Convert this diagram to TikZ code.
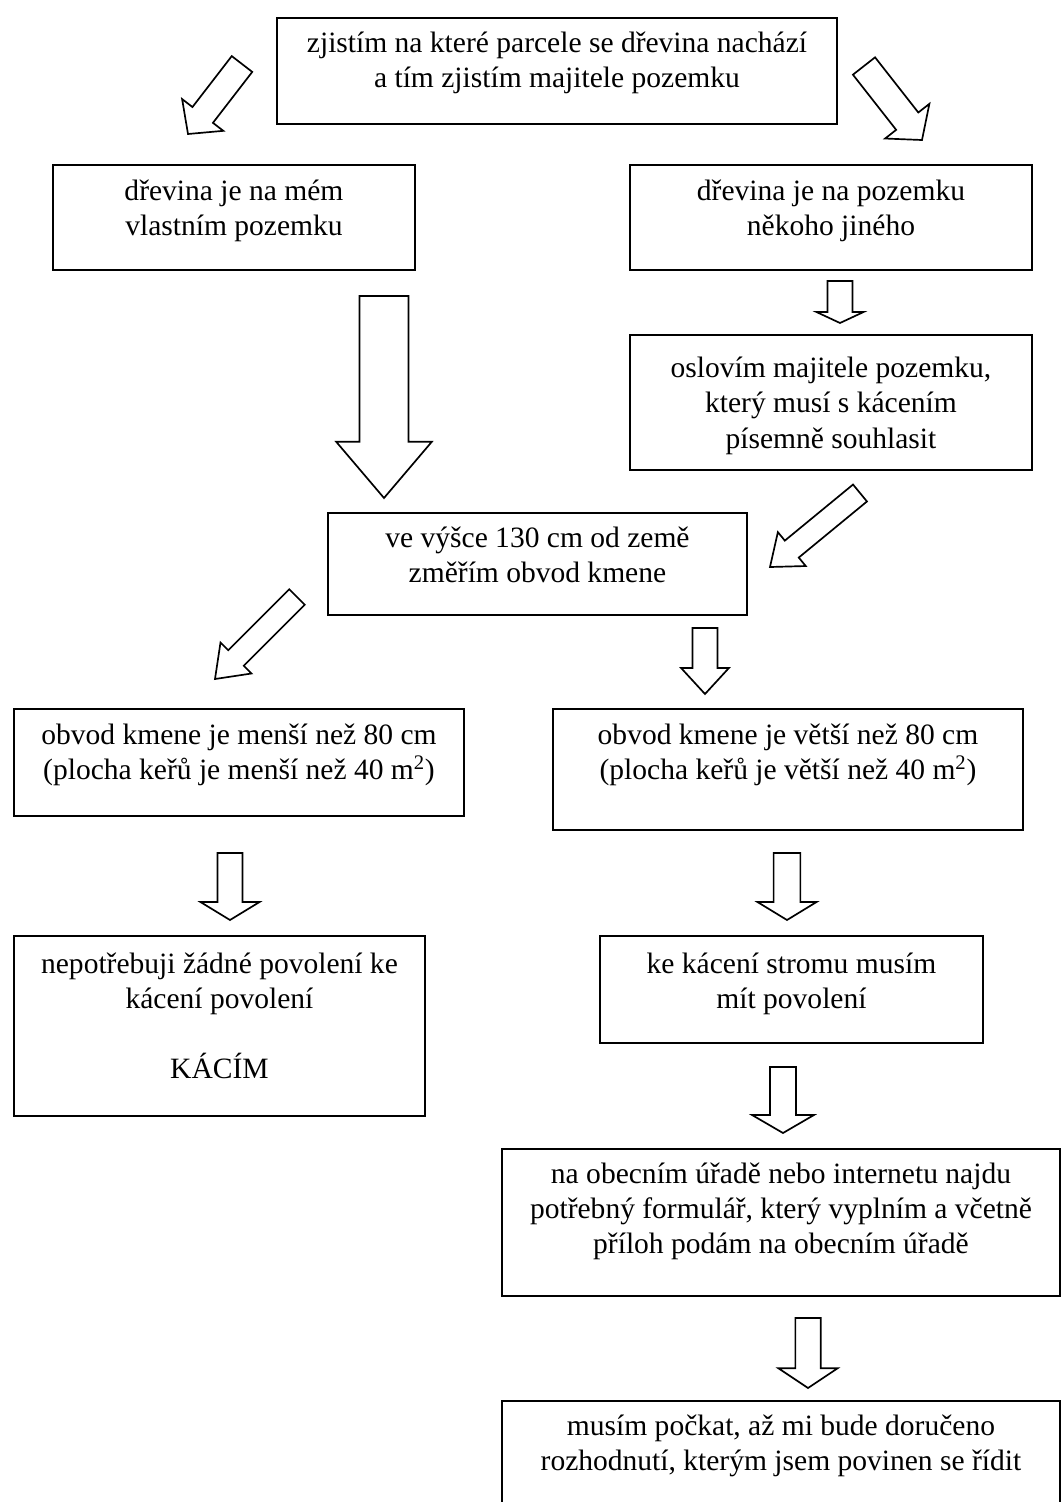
\documentclass[tikz,border=0pt]{standalone}
\usepackage{fontspec}
\setmainfont{Liberation Serif}
\usetikzlibrary{calc}

\tikzset{
  box/.style={draw, line width=1.3pt, inner sep=0pt, anchor=north west,
    font=\fontsize{21}{25}\selectfont},
  fatarr/.style={draw, fill=white, line width=1.2pt, line join=miter}
}

% text of a box: [top gap], width, height, lines
\newcommand{\boxtxt}[4][7pt]{\parbox[c][#3][t]{#2}{\vspace*{#1}\centering\strut #4}}

% hollow block arrow: from, to, shaft half width, head half width, head length
\newcommand{\fatarrow}[5]{%
  \path[fatarr] let \p1=(#1), \p2=(#2),
    \n1={atan2(\y2-\y1,\x2-\x1)}, \n2={veclen(\x2-\x1,\y2-\y1)} in
    ($(\p1)+(\n1+90:#3)$) -- ($(\p1)+(\n1:\n2-#5)+(\n1+90:#3)$)
    -- ($(\p1)+(\n1:\n2-#5)+(\n1+90:#4)$) -- (\p2)
    -- ($(\p1)+(\n1:\n2-#5)+(\n1-90:#4)$) -- ($(\p1)+(\n1:\n2-#5)+(\n1-90:#3)$)
    -- ($(\p1)+(\n1-90:#3)$) -- cycle;}

\begin{document}
\begin{tikzpicture}[x=0.025cm, y=-0.025cm]
\useasboundingbox (0,0) rectangle (1062,1502);
\clip (0,0) rectangle (1062,1502);

\node[box] (zjisteni) at (276,17) {\boxtxt{14cm}{2.65cm}{zjistím na které parcele se dřevina nachází\\a tím zjistím majitele pozemku}};
\node[box] (vlastni) at (52,164) {\boxtxt[8pt]{9.05cm}{2.625cm}{dřevina je na mém\\vlastním pozemku}};
\node[box] (cizi) at (629,164) {\boxtxt[8pt]{10.05cm}{2.625cm}{dřevina je na pozemku\\někoho jiného}};
\node[box] (souhlas) at (629,334) {\boxtxt[13pt]{10.05cm}{3.375cm}{oslovím majitele pozemku,\\který musí s kácením\\písemně souhlasit}};
\node[box] (mereni) at (327,512) {\boxtxt{10.475cm}{2.55cm}{ve výšce 130 cm od země\\změřím obvod kmene}};
\node[box] (mensi) at (13,708) {\boxtxt[8pt]{11.25cm}{2.675cm}{obvod kmene je menší než 80 cm\\(plocha keřů je menší než 40 m\textsuperscript{2})}};
\node[box] (vetsi) at (552,708) {\boxtxt[8pt]{11.75cm}{3.025cm}{obvod kmene je větší než 80 cm\\(plocha keřů je větší než 40 m\textsuperscript{2})}};
\node[box] (bezpovoleni) at (13,935) {\boxtxt[9pt]{10.275cm}{4.5cm}{nepotřebuji žádné povolení ke\\kácení povolení\\[25pt]KÁCÍM}};
\node[box] (povoleni) at (599,935) {\boxtxt[9pt]{9.575cm}{2.675cm}{ke kácení stromu musím\\mít povolení}};
\node[box] (formular) at (501,1148) {\boxtxt{13.95cm}{3.675cm}{na obecním úřadě nebo internetu najdu\\potřebný formulář, který vyplním a včetně\\příloh podám na obecním úřadě}};
\node[box] (rozhodnuti) at (501,1400) {\boxtxt{13.95cm}{3.5cm}{musím počkat, až mi bude doručeno\\rozhodnutí, kterým jsem povinen se řídit}};

\coordinate (a1s) at (242,64);   \coordinate (a1e) at (188,134);
\coordinate (a2s) at (864,66);   \coordinate (a2e) at (922,140);
\coordinate (a3s) at (384,296);  \coordinate (a3e) at (384,498);
\coordinate (a4s) at (840,281);  \coordinate (a4e) at (840,323);
\coordinate (a5s) at (860,493);  \coordinate (a5e) at (770,567);
\coordinate (a6s) at (297,597);  \coordinate (a6e) at (215,679);
\coordinate (a7s) at (705,628);  \coordinate (a7e) at (705,694);
\coordinate (a8s) at (230,853);  \coordinate (a8e) at (230,920);
\coordinate (a9s) at (787,853);  \coordinate (a9e) at (787,920);
\coordinate (a10s) at (783,1067); \coordinate (a10e) at (783,1133);
\coordinate (a11s) at (808,1318); \coordinate (a11e) at (808,1388);

\fatarrow{a1s}{a1e}{9.2pt}{18.5pt}{17pt}
\fatarrow{a2s}{a2e}{10pt}{20pt}{17pt}
\fatarrow{a3s}{a3e}{17.4pt}{34pt}{40pt}
\fatarrow{a4s}{a4e}{8.9pt}{16.7pt}{7.8pt}
\fatarrow{a5s}{a5e}{7.8pt}{15.6pt}{20pt}
\fatarrow{a6s}{a6e}{7.8pt}{15.6pt}{21pt}
\fatarrow{a7s}{a7e}{8.9pt}{17pt}{18.5pt}
\fatarrow{a8s}{a8e}{8.9pt}{21pt}{12.8pt}
\fatarrow{a9s}{a9e}{9.5pt}{21pt}{12.8pt}
\fatarrow{a10s}{a10e}{9.2pt}{22pt}{12.8pt}
\fatarrow{a11s}{a11e}{9pt}{21pt}{14pt}

\end{tikzpicture}
\end{document}
